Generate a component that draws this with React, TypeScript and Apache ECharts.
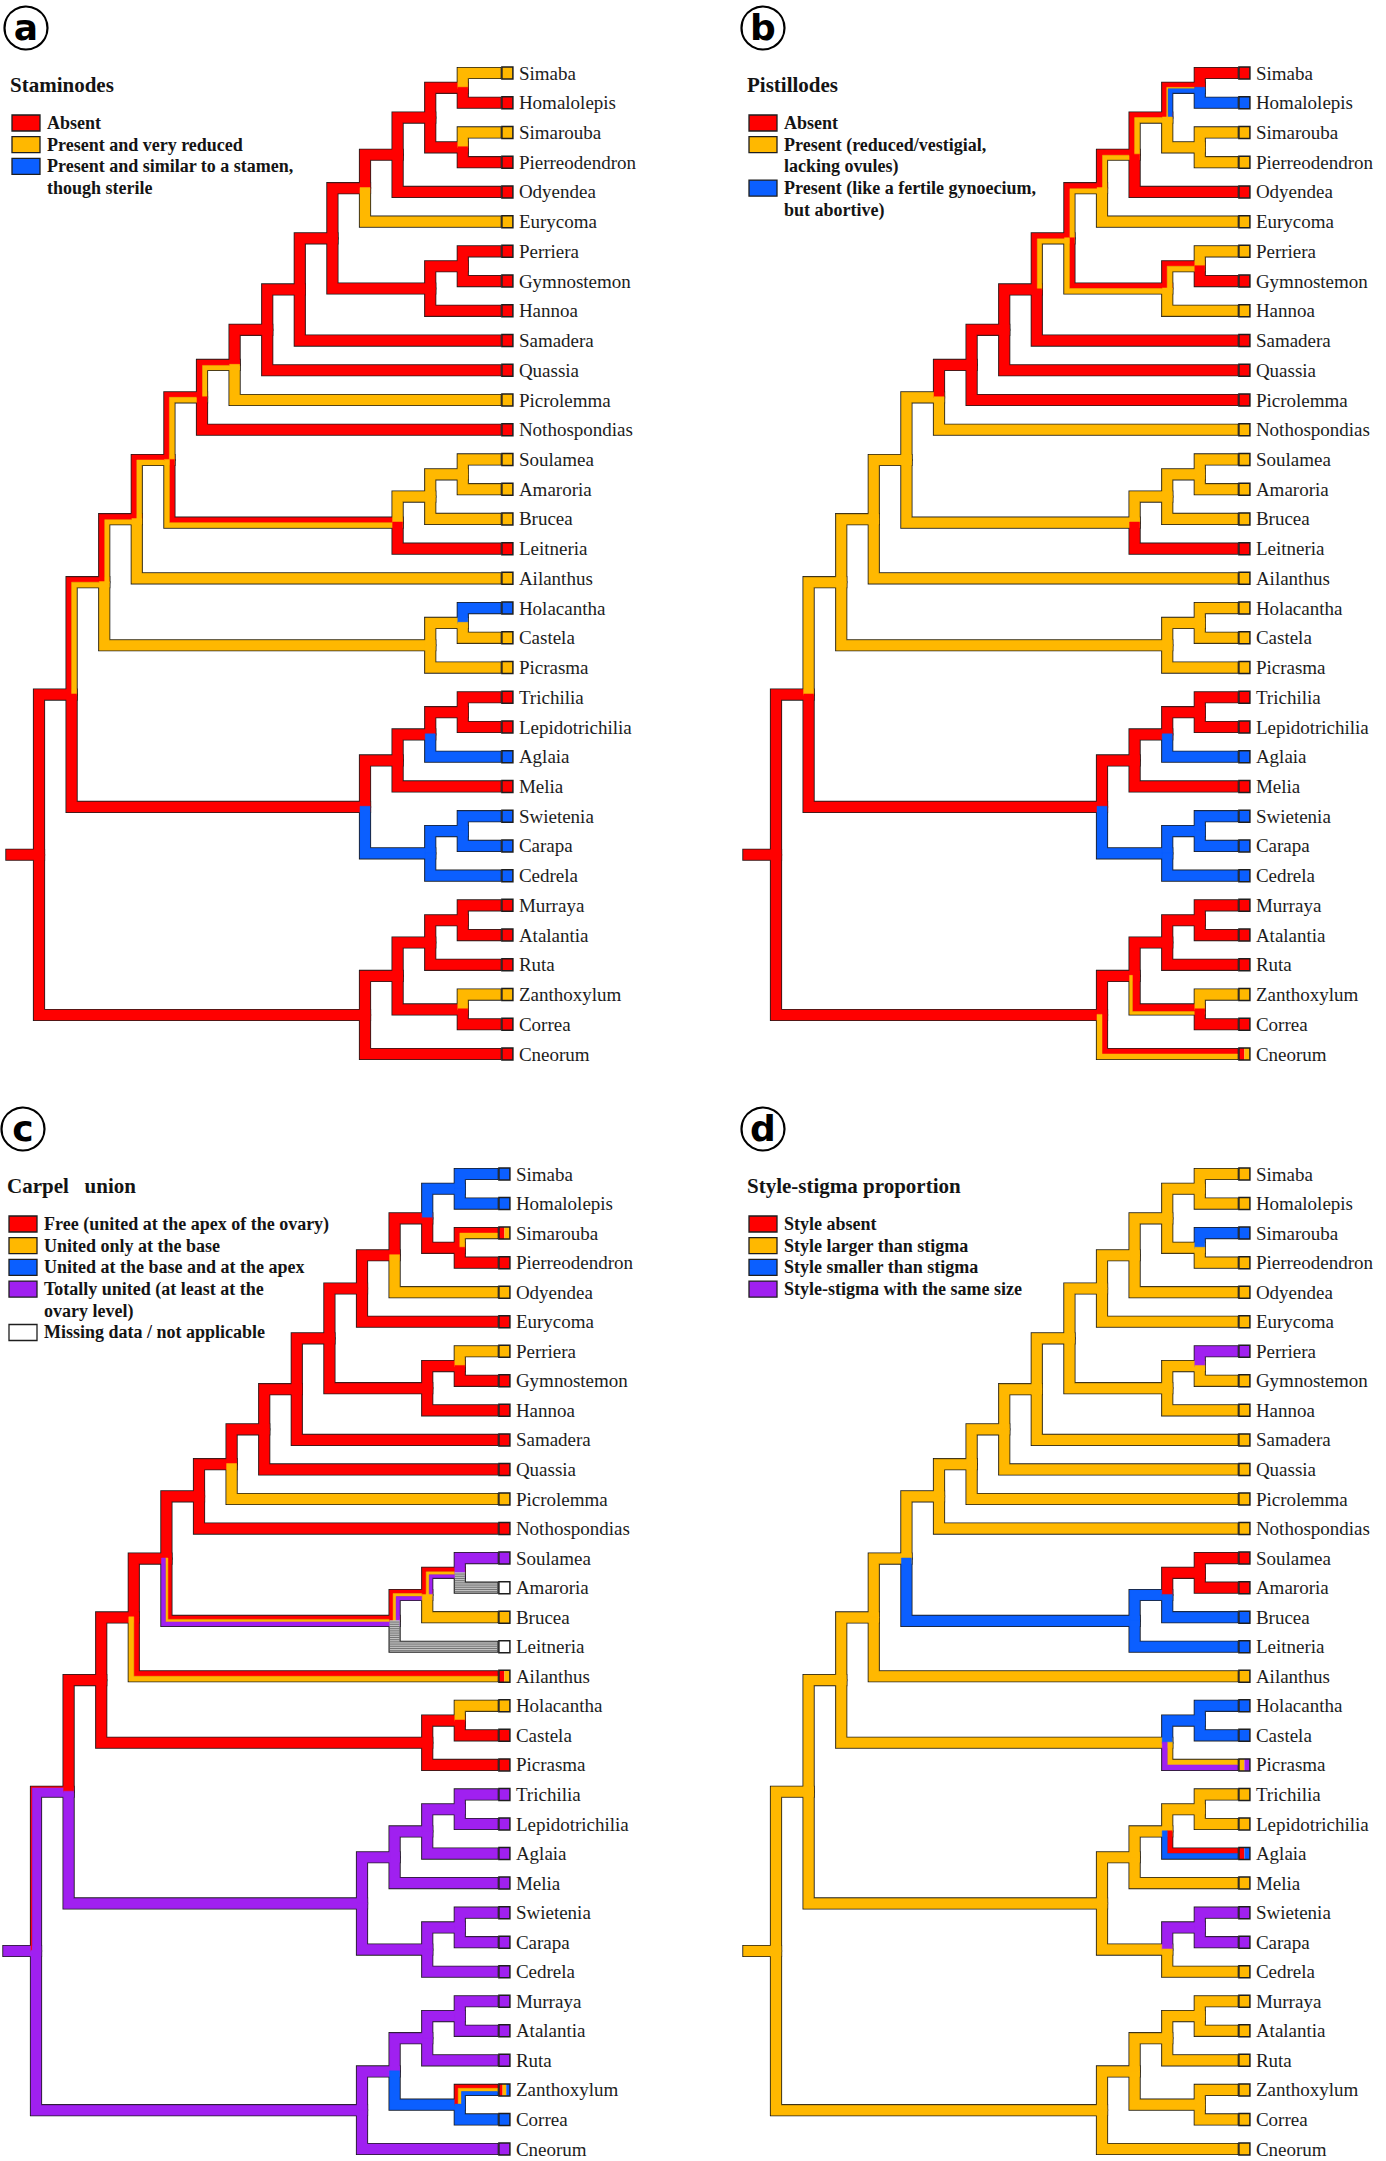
import React, { useEffect, useRef } from "react";
import * as echarts from "echarts";

// ---- Tree topology: every clade lists its two children, upper child first ----
const clades: [string, string, string][] = [
  ["root", "n27", "n32"],
  ["n27", "n20", "n26"],
  ["n20", "n17", "n19"],
  ["n17", "n16", "Ailanthus"],
  ["n16", "n12", "n15"],
  ["n12", "n11", "Nothospondias"],
  ["n11", "n10", "Picrolemma"],
  ["n10", "n9", "Quassia"],
  ["n9", "n8", "Samadera"],
  ["n8", "n5", "n7"],
  ["n5", "n4", "Eurycoma"],
  ["n4", "n3", "Odyendea"],
  ["n3", "n1", "n2"],
  ["n1", "Simaba", "Homalolepis"],
  ["n2", "Simarouba", "Pierreodendron"],
  ["n7", "n6", "Hannoa"],
  ["n6", "Perriera", "Gymnostemon"],
  ["n15", "n14", "Leitneria"],
  ["n14", "n13", "Brucea"],
  ["n13", "Soulamea", "Amaroria"],
  ["n19", "n18", "Picrasma"],
  ["n18", "Holacantha", "Castela"],
  ["n26", "n23", "n25"],
  ["n23", "n22", "Melia"],
  ["n22", "n21", "Aglaia"],
  ["n21", "Trichilia", "Lepidotrichilia"],
  ["n25", "n24", "Cedrela"],
  ["n24", "Swietenia", "Carapa"],
  ["n32", "n31", "Cneorum"],
  ["n31", "n29", "n30"],
  ["n29", "n28", "Ruta"],
  ["n28", "Murraya", "Atalantia"],
  ["n30", "Zanthoxylum", "Correa"],
];

// ---- State weights per branch: [red, yellow, blue, purple, missing] ----
const RED = [1, 0, 0, 0, 0];
const YEL = [0, 1, 0, 0, 0];
const BLU = [0, 0, 1, 0, 0];
const PUR = [0, 0, 0, 1, 0];
const MIS = [0, 0, 0, 0, 1];

const staminodeDefault = RED;
const staminodeBranches: [string, number[]][] = [
  ["Simaba", YEL], ["Simarouba", YEL], ["Eurycoma", YEL], ["Picrolemma", YEL],
  ["n11", [0.55, 0.45, 0, 0, 0]], ["n12", [0.5, 0.5, 0, 0, 0]],
  ["n15", [0.5, 0.5, 0, 0, 0]], ["n16", [0.5, 0.5, 0, 0, 0]],
  ["n17", [0.55, 0.45, 0, 0, 0]], ["n20", [0.5, 0.5, 0, 0, 0]],
  ["n14", YEL], ["n13", YEL], ["Soulamea", YEL], ["Amaroria", YEL], ["Brucea", YEL],
  ["Ailanthus", YEL], ["n19", YEL], ["n18", YEL], ["Holacantha", BLU],
  ["Castela", YEL], ["Picrasma", YEL],
  ["Aglaia", BLU], ["n25", BLU], ["n24", BLU], ["Swietenia", BLU], ["Carapa", BLU], ["Cedrela", BLU],
  ["Zanthoxylum", YEL],
];

const pistillodeDefault = YEL;
const pistillodeBranches: [string, number[]][] = [
  ["Simaba", RED], ["Homalolepis", BLU], ["n1", [0.45, 0.15, 0.4, 0, 0]],
  ["n3", [0.5, 0.5, 0, 0, 0]], ["Odyendea", RED], ["n4", [0.55, 0.45, 0, 0, 0]],
  ["n5", [0.55, 0.45, 0, 0, 0]], ["n8", [0.55, 0.45, 0, 0, 0]],
  ["n7", [0.5, 0.5, 0, 0, 0]], ["n6", [0.5, 0.5, 0, 0, 0]], ["Gymnostemon", RED],
  ["n9", RED], ["Samadera", RED], ["n10", RED], ["Quassia", RED], ["n11", RED], ["Picrolemma", RED],
  ["Leitneria", RED],
  ["root", RED], ["n27", RED], ["n26", RED], ["n23", RED], ["n22", RED], ["n21", RED],
  ["Trichilia", RED], ["Lepidotrichilia", RED], ["Melia", RED], ["Aglaia", BLU],
  ["n25", BLU], ["n24", BLU], ["Swietenia", BLU], ["Carapa", BLU], ["Cedrela", BLU],
  ["n32", RED], ["n31", RED], ["n29", RED], ["n28", RED], ["Murraya", RED], ["Atalantia", RED],
  ["Ruta", RED], ["n30", [0.72, 0.28, 0, 0, 0]], ["Correa", RED], ["Cneorum", [0.5, 0.5, 0, 0, 0]],
];

const carpelDefault = RED;
const carpelBranches: [string, number[]][] = [
  ["Simaba", BLU], ["Homalolepis", BLU], ["n1", BLU], ["Simarouba", [0.5, 0.5, 0, 0, 0]],
  ["Odyendea", YEL], ["Perriera", YEL], ["Picrolemma", YEL],
  ["n15", [0.35, 0.25, 0, 0.4, 0]], ["n14", [0.35, 0.3, 0, 0.35, 0]], ["n13", [0.4, 0.3, 0, 0.3, 0]],
  ["Soulamea", PUR], ["Amaroria", MIS], ["Brucea", YEL], ["Leitneria", MIS],
  ["Ailanthus", [0.5, 0.5, 0, 0, 0]], ["Holacantha", YEL],
  ["root", PUR], ["n27", [0.12, 0, 0, 0.88, 0]],
  ["n26", PUR], ["n23", PUR], ["n22", PUR], ["n21", PUR], ["Trichilia", PUR], ["Lepidotrichilia", PUR],
  ["Aglaia", PUR], ["Melia", PUR], ["n25", PUR], ["n24", PUR], ["Swietenia", PUR], ["Carapa", PUR],
  ["Cedrela", PUR], ["n32", PUR], ["n31", PUR], ["n29", PUR], ["n28", PUR], ["Murraya", PUR],
  ["Atalantia", PUR], ["Ruta", PUR], ["n30", BLU], ["Zanthoxylum", [0.34, 0.33, 0.33, 0, 0]],
  ["Correa", BLU], ["Cneorum", PUR],
];

const styleDefault = YEL;
const styleBranches: [string, number[]][] = [
  ["Simarouba", BLU], ["Perriera", PUR],
  ["n15", BLU], ["n14", BLU], ["n13", RED], ["Soulamea", RED], ["Amaroria", RED],
  ["Brucea", BLU], ["Leitneria", BLU],
  ["n18", BLU], ["Holacantha", BLU], ["Castela", BLU], ["Picrasma", [0, 0.5, 0, 0.5, 0]],
  ["Aglaia", [0.5, 0, 0.5, 0, 0]], ["n24", PUR], ["Swietenia", PUR], ["Carapa", PUR],
];

// ---- Legend texts ----
const panelLetters = ["a", "b", "c", "d"];
const panelTitles = ["Staminodes", "Pistillodes", "Carpel   union", "Style-stigma proportion"];
const staminodeLabels = ["Absent", "Present and very reduced", "Present and similar to a stamen,\nthough sterile"];
const pistillodeLabels = ["Absent", "Present (reduced/vestigial,\nlacking ovules)", "Present (like a fertile gynoecium,\nbut abortive)"];
const carpelLabels = [
  "Free (united at the apex of the ovary)", "United only at the base", "United at the base and at the apex",
  "Totally united (at least at the\novary level)", "Missing data / not applicable",
];
const styleLabels = ["Style absent", "Style larger than stigma", "Style smaller than stigma", "Style-stigma with the same size"];

// ---- Styling ----
const stateColors = ["#FF0000", "#FFB800", "#0B5FFF", "#A020F0"];
const missingFill = "#C2C2C2";
const outlineColor = "#1e1e1e";
const HALF = 5; // half branch thickness (px)
const TIP_LEVEL = 15;

// ---- Layout of the tree (rows and depth levels) ----
const childrenOf = new Map<string, string[]>(clades.map(([n, a, b]) => [n, [a, b]]));
const tipNames: string[] = [];
const rowOf = new Map<string, number>();
const heightOf = new Map<string, number>();
const parentOf = new Map<string, string>();
const nodeOrder: string[] = [];
function walk(n: string) {
  nodeOrder.push(n);
  const kids = childrenOf.get(n);
  if (!kids) {
    rowOf.set(n, tipNames.length);
    tipNames.push(n);
    heightOf.set(n, 0);
    return;
  }
  kids.forEach((k) => {
    parentOf.set(k, n);
    walk(k);
  });
  rowOf.set(n, (rowOf.get(kids[0])! + rowOf.get(kids[1])!) / 2);
  heightOf.set(n, 1 + Math.max(heightOf.get(kids[0])!, heightOf.get(kids[1])!));
}
walk("root");
const levelOf = (n: string) => TIP_LEVEL - heightOf.get(n)!;

function branchData(def: number[], list: [string, number[]][]) {
  const table = new Map(list);
  return nodeOrder.map((n) => {
    const par = parentOf.get(n);
    const w = table.get(n) || def;
    return [levelOf(n), rowOf.get(n)!, par ? levelOf(par) : 0, par ? rowOf.get(par)! : rowOf.get(n)!, ...w];
  });
}
function tipData(def: number[], list: [string, number[]][]) {
  const table = new Map(list);
  return tipNames.map((n) => [TIP_LEVEL, rowOf.get(n)!, ...(table.get(n) || def)]);
}

// Elbow-shaped stripe between perpendicular offsets a..b
function elbow(px: number, py: number, cx: number, cy: number, xEnd: number, a: number, b: number, ext = 0) {
  if (Math.abs(cy - py) < 0.01) {
    return [[px, cy + a], [xEnd, cy + a], [xEnd, cy + b], [px, cy + b]];
  }
  const t = cy < py ? 1 : -1;
  const y0 = py + t * ext;
  return [
    [px + t * a, y0], [px + t * a, cy + a], [xEnd, cy + a],
    [xEnd, cy + b], [px + t * b, cy + b], [px + t * b, y0],
  ];
}

function renderBranch(mode: "outline" | "fill") {
  return (params: any, api: any) => {
    const c = api.coord([api.value(0), api.value(1)]);
    const p = api.coord([api.value(2), api.value(3)]);
    const xEnd = c[0] + HALF;
    const w = [0, 1, 2, 3, 4].map((k) => Number(api.value(4 + k)));
    if (mode === "outline") {
      return {
        type: "polygon",
        shape: { points: elbow(p[0], p[1], c[0], c[1], xEnd, -HALF, HALF) },
        style: { fill: outlineColor, stroke: outlineColor, lineWidth: 2.2 },
      };
    }
    const children: any[] = [];
    if (w[4] > 0) {
      children.push({
        type: "polygon",
        shape: { points: elbow(p[0], p[1], c[0], c[1], xEnd, -HALF, HALF, 0.6) },
        style: { fill: missingFill },
      });
      const yTop = Math.min(p[1], c[1] - HALF);
      const yBot = Math.max(p[1], c[1] + HALF);
      for (let y = yTop + 1.2; y < yBot; y += 2.2) {
        const inBar = y >= c[1] - HALF && y <= c[1] + HALF;
        children.push({
          type: "line",
          shape: { x1: p[0] - HALF, y1: y, x2: inBar ? xEnd : p[0] + HALF, y2: y },
          style: { stroke: "#5e5e5e", lineWidth: 0.8 },
        });
      }
      return { type: "group", children };
    }
    const total = w[0] + w[1] + w[2] + w[3];
    let acc = -HALF;
    for (let k = 0; k < 4; k++) {
      if (w[k] <= 0) continue;
      const next = acc + (2 * HALF * w[k]) / total;
      children.push({
        type: "polygon",
        shape: { points: elbow(p[0], p[1], c[0], c[1], xEnd, acc, next, 0.6) },
        style: { fill: stateColors[k], stroke: stateColors[k], lineWidth: 0.5 },
      });
      acc = next;
    }
    return { type: "group", children };
  };
}

function renderTip(params: any, api: any) {
  const pt = api.coord([api.value(0), api.value(1)]);
  const w = [0, 1, 2, 3, 4].map((k) => Number(api.value(2 + k)));
  const bw = 11;
  const bh = 12;
  const x0 = pt[0] + HALF + 1.5;
  const y0 = pt[1] - bh / 2;
  const children: any[] = [];
  if (w[4] > 0) {
    children.push({ type: "rect", shape: { x: x0, y: y0, width: bw, height: bh }, style: { fill: "#fff" } });
  } else {
    const total = w[0] + w[1] + w[2] + w[3];
    let acc = x0;
    for (let k = 0; k < 4; k++) {
      if (w[k] <= 0) continue;
      const wd = (bw * w[k]) / total;
      children.push({ type: "rect", shape: { x: acc, y: y0, width: wd, height: bh }, style: { fill: stateColors[k] } });
      acc += wd;
    }
  }
  children.push({
    type: "rect",
    shape: { x: x0, y: y0, width: bw, height: bh },
    style: { fill: "none", stroke: outlineColor, lineWidth: 1.5 },
  });
  children.push({
    type: "text",
    x: x0 + bw + 6,
    y: pt[1],
    style: {
      text: tipNames[params.dataIndex],
      font: '19px "Liberation Serif"',
      fill: "#1c1c1c",
      align: "left",
      verticalAlign: "middle",
      textAlign: "left",
      textVerticalAlign: "middle",
    },
  });
  return { type: "group", children };
}

// ---- Panels ----
const panels = [
  { def: staminodeDefault, list: staminodeBranches, labels: staminodeLabels, swatches: [0, 1, 2] },
  { def: pistillodeDefault, list: pistillodeBranches, labels: pistillodeLabels, swatches: [0, 1, 2] },
  { def: carpelDefault, list: carpelBranches, labels: carpelLabels, swatches: [0, 1, 2, 3, -1] },
  { def: styleDefault, list: styleBranches, labels: styleLabels, swatches: [0, 1, 2, 3] },
];
const panelOffsets = [[0, 0], [737, 0], [-3, 1101], [737, 1101]];
const panelTreeHeights = [981, 981, 975, 975];

function buildOption() {
  const grid: any[] = [];
  const xAxis: any[] = [];
  const yAxis: any[] = [];
  const series: any[] = [];
  const graphic: any[] = [];

  panels.forEach((pn, i) => {
    const [dx, dy] = panelOffsets[i];
    grid.push({ left: 6.4 + dx, top: 73 + dy, width: 489, height: panelTreeHeights[i] });
    xAxis.push({ type: "value", gridIndex: i, min: 0, max: TIP_LEVEL, show: false });
    yAxis.push({ type: "value", gridIndex: i, min: 0, max: tipNames.length - 1, inverse: true, show: false });
    const bData = branchData(pn.def, pn.list);
    series.push({
      type: "custom", xAxisIndex: i, yAxisIndex: i, z: 2, silent: true, clip: false,
      data: bData, renderItem: renderBranch("outline"),
    });
    series.push({
      type: "custom", xAxisIndex: i, yAxisIndex: i, z: 3, silent: true, clip: false,
      data: bData, renderItem: renderBranch("fill"),
    });
    series.push({
      type: "custom", xAxisIndex: i, yAxisIndex: i, z: 4, silent: true, clip: false,
      data: tipData(pn.def, pn.list), renderItem: renderTip,
    });

    // panel letter in a circle
    graphic.push({
      type: "circle",
      shape: { cx: 26 + dx, cy: 28 + dy, r: 21.5 },
      style: { fill: "none", stroke: "#000", lineWidth: 2.2 },
    });
    graphic.push({
      type: "text",
      x: 26 + dx,
      y: 27 + dy,
      style: {
        text: panelLetters[i], font: 'bold 36px "DejaVu Sans"', fill: "#000",
        align: "center", verticalAlign: "middle", textAlign: "center", textVerticalAlign: "middle",
      },
    });
    // legend title
    graphic.push({
      type: "text",
      x: 10 + dx,
      y: 85 + dy,
      style: {
        text: panelTitles[i], font: 'bold 21px "Liberation Serif"', fill: "#141414",
        verticalAlign: "middle", textVerticalAlign: "middle",
      },
    });
    // legend entries
    let row = 0;
    const LINE = 21.7;
    pn.labels.forEach((lab, k) => {
      const yc = 123 + dy + row * LINE;
      const ci = pn.swatches[k];
      graphic.push({
        type: "rect",
        shape: { x: 12 + dx, y: yc - 8, width: 28, height: 16 },
        style: { fill: ci < 0 ? "#fff" : stateColors[ci], stroke: outlineColor, lineWidth: 1.3 },
      });
      graphic.push({
        type: "text",
        x: 47 + dx,
        y: yc - LINE / 2,
        style: {
          text: lab, font: 'bold 18px "Liberation Serif"', fill: "#141414", lineHeight: LINE,
          verticalAlign: "top", textVerticalAlign: "top",
        },
      });
      row += lab.split("\n").length;
    });
  });

  return { animation: false, backgroundColor: "#fff", grid, xAxis, yAxis, series, graphic };
}

export default function App() {
  const ref = useRef<HTMLDivElement>(null);
  useEffect(() => {
    const chart = echarts.init(ref.current!, undefined, { renderer: "svg" });
    chart.setOption(buildOption() as any);
    return () => chart.dispose();
  }, []);
  return (
    <div
      ref={ref}
      style={{ position: "absolute", left: 0, top: 0, width: 1386, height: 2161, background: "#fff" }}
    />
  );
}
